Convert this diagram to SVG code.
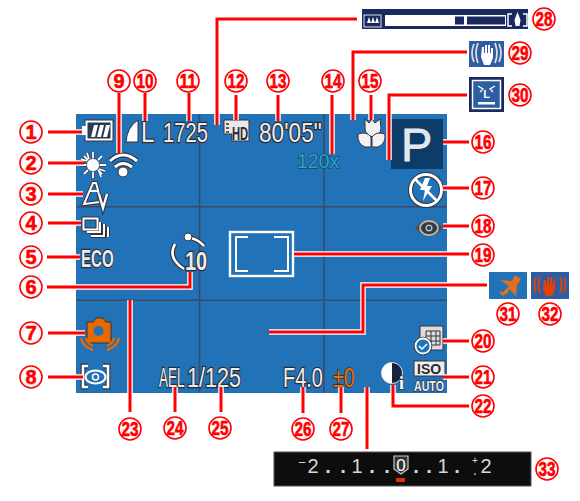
<svg xmlns="http://www.w3.org/2000/svg" width="580" height="501" viewBox="0 0 580 501">
<style>
text{font-family:"Liberation Sans",Arial,sans-serif}
.n circle{fill:#fff;stroke:#f00;stroke-width:1.6}
.n text{font-size:20px;font-weight:700;fill:#f00;text-anchor:middle;stroke:#f00;stroke-width:.6}
.h{fill:none;stroke:#fff;stroke-width:5.5}
.r{fill:none;stroke:#f00;stroke-width:3}
.t{fill:#ececec;stroke:#2b2b33;stroke-width:2.4;paint-order:stroke;font-size:27px}
.w{fill:none;stroke:#fff;stroke-width:2.6}
.k{fill:none;stroke:#33333c;stroke-width:4.8}
.b{fill:#d8d8d8;font-size:20px;text-anchor:middle}
.d{fill:#d8d8d8;font-size:20px;font-weight:700;text-anchor:middle}
.grid{stroke:#3c4a64;stroke-width:1.6}
</style>
<g id="screen">
<rect x="76" y="114" width="371" height="279" fill="#2272b8"/>
<path class="grid" d="M199.500 114V393M324 114V393M76 206.700H447M76 300.300H447"/>
<rect x="391" y="119" width="52" height="50" fill="#0e3c68"/>
</g>
<g id="icon-battery"><rect x="85" y="120" width="28" height="21" fill="#fff" stroke="#33333c"/><rect x="82" y="126" width="4" height="9" fill="#fff"/><rect x="87.500" y="122.500" width="23" height="16" fill="#2a3a50"/><path d="M91 137l3-12h4l-3 12zM97 137l3-12h4l-3 12zM103 137l3-12h4l-3 12z" fill="#fff"/></g>
<g id="icon-sun"><path d="M93 152v7M93 171v7M80 165h7M99 165h7M84 156l4 4M98 170l4 4M102 156l-4 4M88 170l-4 4M87 153l2 6M99 171l2 6M81 159l6 2M99 169l6 2" stroke="#33333c" stroke-width="3" fill="none"/><path d="M93 152v7M93 171v7M80 165h7M99 165h7M84 156l4 4M98 170l4 4M102 156l-4 4M88 170l-4 4M87 153l2 6M99 171l2 6M81 159l6 2M99 169l6 2" stroke="#fff" stroke-width="1.800" fill="none"/><circle cx="93" cy="165" r="6.500" fill="#fff" stroke="#33333c" stroke-width=".6"/></g>
<g id="icon-wifi"><path d="M110 161Q123 149 137 161M115 167Q123 160 132 167" fill="none" stroke="#33333c" stroke-width="5.500"/><path d="M110 161Q123 149 137 161M115 167Q123 160 132 167" fill="none" stroke="#fff" stroke-width="3"/><circle cx="123" cy="172" r="5" fill="#fff" stroke="#33333c"/></g>
<g id="icon-av"><path d="M90 190l3-7h3l2 7 2 12-16 2z" fill="none" stroke="#33333c" stroke-width="4"/><path d="M90 190l3-7h3l2 7 2 12-16 2zM90 191h8" fill="none" stroke="#fff" stroke-width="2"/><path d="M99 194l4 14 4-14" fill="none" stroke="#33333c" stroke-width="4.400"/><path d="M99 194l4 14 4-14" fill="none" stroke="#fff" stroke-width="2.400"/></g>
<g id="icon-drive"><path d="M83.500 218.500h14v11h-14zM100 222v10H87M104 224v12H91M108 227v10" fill="none" stroke="#33333c" stroke-width="4"/><path d="M83.500 218.500h14v11h-14zM100 222v10H87M104 224v12H91M108 227v10" fill="none" stroke="#fff" stroke-width="2"/></g>
<g id="icon-eco"><text class="t" style="font-size:24px;font-weight:700" transform="translate(81 267) scale(.63 1)">ECO</text></g>
<g id="icon-timer"><path d="M175 244q-8 14 9 25M191 238q8 2 13 8" class="k"/><path d="M175 244q-8 14 9 25M191 238q8 2 13 8" class="w"/><circle cx="188" cy="237" r="4" fill="#fff" stroke="#33333c"/><text class="t" style="font-size:25px;font-weight:700" transform="translate(185 270) scale(.8 1)">10</text></g>
<g id="icon-shake"><path d="M87 322h6l3-4h7l3 4h5v21H87z" fill="#e86800" stroke="#33333c"/><circle cx="98.500" cy="331" r="5" fill="#2272b8"/><path d="M81 338q2 9 12 12M86 338q1 5 7 8M119 338q-2 9-12 12M114 338q-1 5-7 8" fill="none" stroke="#e86800" stroke-width="2.400"/></g>
<g id="icon-metering"><path d="M88 366H83V387H88M103 366H108V387H103" class="k"/><path d="M88 366H83V387H88M103 366H108V387H103" class="w"/><ellipse cx="95.500" cy="377" rx="10" ry="6.500" fill="none" stroke="#fff" stroke-width="2"/><circle cx="95.500" cy="377" r="3" fill="none" stroke="#fff" stroke-width="1.500"/></g>
<g id="icon-quality"><path d="M126 142q1-15 12-22v22z" fill="#fff" stroke="#33333c"/><text class="t" style="font-size:30px" transform="translate(141 142) scale(.8 1)">L</text></g>
<text id="shots" class="t" transform="translate(163 142) scale(.75 1)">1725</text>
<g id="icon-movie"><path d="M224 120h25v21h-17v-7h-8z" fill="#e8e8e8" stroke="#33333c"/><text style="font-size:19px;font-weight:700" fill="#2b2b33" transform="translate(232 140) scale(.59 1)">HD</text><path d="M226 124h3M226 128h3M226 132h3" stroke="#2b2b33" stroke-width="1.500"/></g>
<text id="time" class="t" transform="translate(259 142) scale(.84 1)">80'05"</text>
<text id="zoom" style="font-size:21px" fill="#22a8cc" stroke="#1d4468" stroke-width="1.500" paint-order="stroke" transform="translate(297 168) scale(.93 1)">120x</text>
<g id="icon-macro"><path d="M365 119l4 4 3-4 3 4 5-4 1 9q0 7-8 9-8-2-8-9z" fill="#f2f2f2" stroke="#33333c"/><path d="M358 134q9-3 13 3v10h-6q-8-3-7-13zM385 134q-9-3-13 3v10h6q8-3 7-13z" fill="#f2f2f2" stroke="#33333c"/></g>
<text id="mode" x="401" y="161" style="font-size:47px" fill="#e3e8ee" stroke="#e3e8ee" stroke-width=".8">P</text>
<g id="icon-flash"><circle cx="426" cy="190" r="15.500" fill="none" stroke="#33333c" stroke-width="5"/><circle cx="426" cy="190" r="15.500" fill="none" stroke="#fff" stroke-width="3"/><path d="M425 178l-5 12h5l-2 11 9-15h-5l3-8z" fill="#fff"/><path d="M415 179l22 22" stroke="#fff" stroke-width="2.500"/></g>
<g id="icon-eye"><path d="M416 228q13-15 26 0q-13 15-26 0z" fill="#2e3a48" stroke="#555" stroke-width="2"/><ellipse cx="429" cy="228" rx="9" ry="7" fill="none" stroke="#b8b8b8" stroke-width="1.800"/><circle cx="429" cy="228" r="2.800" fill="none" stroke="#b8b8b8" stroke-width="1.500"/></g>
<g id="focus-frame"><rect x="230" y="232" width="63" height="44" fill="none" stroke="#fff" stroke-width="2.400"/><path d="M248 237H236V271H248M274 237H288V271H274" fill="none" stroke="#fff" stroke-width="2"/></g>
<g id="icon-date"><rect x="420" y="326" width="23" height="24" fill="#ddd" stroke="#33333c"/><path d="M426 331h14v14h-14zM431 331v14M436 331v14M426 336h14M426 341h14" stroke="#33333c" stroke-width="1" fill="none"/><circle cx="423" cy="346" r="7.500" fill="#2272b8" stroke="#33333c" stroke-width="3.500"/><circle cx="423" cy="346" r="7.500" fill="#2272b8" stroke="#fff" stroke-width="1.800"/><path d="M419 346l3 3 5-5" fill="none" stroke="#fff" stroke-width="1.500"/></g>
<g id="icon-iso"><rect x="414" y="361" width="31" height="15" fill="#eee" stroke="#33333c"/><text style="font-size:14px;font-weight:700" fill="#2b2b33" transform="translate(417 374)">ISO</text><text style="font-size:15px;font-weight:700" fill="#eee" stroke="#33333c" stroke-width="1.500" paint-order="stroke" transform="translate(414 391) scale(.71 1)">AUTO</text></g>
<g id="icon-contrast"><circle cx="392" cy="373" r="10.500" fill="#15263c" stroke="#ddd" stroke-width="1"/><path d="M392 362.500a10.500 10.500 0 0 0 0 21z" fill="#fff"/><text x="399" y="389" style="font-size:18px;font-weight:700;font-family:'Liberation Serif',serif" fill="#fff" stroke="#33333c" stroke-width="1.500" paint-order="stroke">i</text></g>
<text id="ael" class="t" transform="translate(159 387) scale(.5 1)">AEL</text>
<text id="shutter" class="t" transform="translate(187 387) scale(.8 1)">1/125</text>
<text id="aperture" class="t" transform="translate(283 387) scale(.74 1)">F4.0</text>
<text id="exposure" style="font-size:27px" fill="#e87000" stroke="#2b2b33" stroke-width="1.500" paint-order="stroke" transform="translate(333 387) scale(.73 1)">±0</text>
<g id="connectors">
<g><path class="h" d="M48 132H82"/><path class="r" d="M48 132H82"/></g>
<g><path class="h" d="M48 163H84"/><path class="r" d="M48 163H84"/></g>
<g><path class="h" d="M48 194H83"/><path class="r" d="M48 194H83"/></g>
<g><path class="h" d="M48 223H81"/><path class="r" d="M48 223H81"/></g>
<g><path class="h" d="M47 257H80"/><path class="r" d="M47 257H80"/></g>
<g><path class="h" d="M47 287H190V272"/><path class="r" d="M47 287H190V272"/></g>
<g><path class="h" d="M48 333H85"/><path class="r" d="M48 333H85"/></g>
<g><path class="h" d="M48 377H83"/><path class="r" d="M48 377H83"/></g>
<g><path class="h" d="M119 93V153"/><path class="r" d="M119 93V153"/></g>
<g><path class="h" d="M145 93V121"/><path class="r" d="M145 93V121"/></g>
<g><path class="h" d="M189 93V121"/><path class="r" d="M189 93V121"/></g>
<g><path class="h" d="M236 95V120"/><path class="r" d="M236 95V120"/></g>
<g><path class="h" d="M278 95V121"/><path class="r" d="M278 95V121"/></g>
<g><path class="h" d="M332 95V154"/><path class="r" d="M332 95V154"/></g>
<g><path class="h" d="M371 95V120"/><path class="r" d="M371 95V120"/></g>
<g><path class="h" d="M357 19H217V125"/><path class="r" d="M357 19H217V125"/></g>
<g><path class="h" d="M467 52H353V120"/><path class="r" d="M467 52H353V120"/></g>
<g><path class="h" d="M467 95H389V160"/><path class="r" d="M467 95H389V160"/></g>
<g><path class="h" d="M443 142H469"/><path class="r" d="M443 142H469"/></g>
<g><path class="h" d="M443 188H469"/><path class="r" d="M443 188H469"/></g>
<g><path class="h" d="M443 226H469"/><path class="r" d="M443 226H469"/></g>
<g><path class="h" d="M294 254H469"/><path class="r" d="M294 254H469"/></g>
<g><path class="h" d="M487 285H363V332H269"/><path class="r" d="M487 285H363V332H269"/></g>
<g><path class="h" d="M443 341H469"/><path class="r" d="M443 341H469"/></g>
<g><path class="h" d="M443 377H469"/><path class="r" d="M443 377H469"/></g>
<g><path class="h" d="M393 385V406H469"/><path class="r" d="M393 385V406H469"/></g>
<g><path class="h" d="M130 300V412"/><path class="r" d="M130 300V412"/></g>
<g><path class="h" d="M175 387V412"/><path class="r" d="M175 387V412"/></g>
<g><path class="h" d="M221 387V412"/><path class="r" d="M221 387V412"/></g>
<g><path class="h" d="M303 387V413"/><path class="r" d="M303 387V413"/></g>
<g><path class="h" d="M341 387V413"/><path class="r" d="M341 387V413"/></g>
<g><path class="h" d="M367 387V449"/><path class="r" d="M367 387V449"/></g>
</g>
<g id="bar-focus"><rect x="362" y="9" width="166" height="20" fill="#1a2a5e"/><rect x="364" y="15" width="17" height="12" fill="#1a2a5e" stroke="#dde"/><path d="M367 23l2-6 2 6zM371 23l2-6 2 6zM375 23l2-6 2 6z" fill="#fff"/><rect x="385" y="15" width="121" height="11" fill="#fff"/><rect x="455" y="16.500" width="9" height="8" fill="#1a2a5e"/><rect x="467" y="16.500" width="38" height="8" fill="#1a2a5e"/><path d="M512 14h-4v12h4M523 14h4v12h-4" fill="none" stroke="#fff" stroke-width="1.500"/><path d="M517.500 12l3 8-1 6h-4l-1-6z" fill="#fff"/></g>
<g id="icon-is"><rect x="469" y="41" width="35" height="26" fill="#2e5da4"/><path d="M474 44q-4 9 0 18M478 43q-4 10 0 20M499 44q4 9 0 18M495 43q4 10 0 20" fill="none" stroke="#ddd" stroke-width="1.800"/><path d="M482 47h2v6h1v-8h2v8h1v-8h2v8h1v-5h2v10l-3 7h-6l-3-8z" fill="#fff"/></g>
<g id="icon-blink"><rect x="469" y="77" width="35" height="35" fill="#1a2a5e"/><rect x="472.500" y="80.500" width="28" height="28" fill="#2e5da4" stroke="#fff" stroke-width="1.500"/><path d="M478 86l5 3-3 3M495 86l-5 3 3 3" fill="none" stroke="#fff" stroke-width="1.300"/><text x="486.500" y="98" style="font-size:11px;font-weight:700" fill="#fff" text-anchor="middle">L</text><rect x="478" y="102" width="17" height="2.500" fill="#fff"/></g>
<g id="icon-plane"><rect x="489" y="272" width="38" height="27" fill="#2272b8"/><path d="M515 275l-3 6-12-1 9 6-6 6-4-1 3 5 6-3 1-4 7 7 1-11 4-6z" fill="#e07020"/></g>
<g id="icon-shake-warn"><rect x="531" y="272" width="38" height="27" fill="#2e5da4"/><path d="M536 278q-3 7 0 14M540 277q-3 8 0 16M564 278q3 7 0 14M560 277q3 8 0 16" fill="none" stroke="#e84000" stroke-width="1.800"/><path d="M544 280h2v5h1v-8h2v8h1v-8h2v8h1v-6h2v10l-3 7h-6l-3-7z" fill="#e84000"/></g>
<g id="bar-exposure"><rect x="274" y="452" width="257" height="34" fill="#0d0d0d" stroke="#555"/>
<text class="b" x="302" y="467" style="font-size:13px">−</text><text class="b" x="313" y="473">2</text><text class="d" x="328" y="473">.</text><text class="d" x="343" y="473">.</text><text class="b" x="357" y="473">1</text><text class="d" x="372" y="473">.</text><text class="d" x="387" y="473">.</text><path d="M394 456h14v13l-7 5-7-5z" fill="#333" stroke="#ccc" stroke-width="1.200"/><text class="b" x="401" y="471" style="font-size:17px;fill:#fff">0</text><text class="d" x="416" y="473">.</text><text class="d" x="429" y="473">.</text><text class="b" x="443" y="473">1</text><text class="d" x="457" y="473">.</text><text class="b" x="475" y="464" style="font-size:10px">+</text><text class="d" x="475" y="475" style="font-size:10px">.</text><text class="b" x="486" y="473">2</text>
<rect x="396" y="478" width="9" height="4" fill="#e03000"/></g>
<g class="n">
<g id="n1"><circle cx="31" cy="132" r="11"/><text x="31" y="139">1</text></g>
<g id="n2"><circle cx="31" cy="163" r="11"/><text x="31" y="170">2</text></g>
<g id="n3"><circle cx="31" cy="194" r="11"/><text x="31" y="201">3</text></g>
<g id="n4"><circle cx="31" cy="223" r="11"/><text x="31" y="230">4</text></g>
<g id="n5"><circle cx="31" cy="257" r="11"/><text x="31" y="264">5</text></g>
<g id="n6"><circle cx="31" cy="287" r="11"/><text x="31" y="294">6</text></g>
<g id="n7"><circle cx="31" cy="333" r="11"/><text x="31" y="340">7</text></g>
<g id="n8"><circle cx="31" cy="377" r="11"/><text x="31" y="384">8</text></g>
<g id="n9"><circle cx="119" cy="81" r="11"/><text x="119" y="88">9</text></g>
<g id="n10"><circle cx="145" cy="81" r="11"/><text x="145" y="88" textLength="17" lengthAdjust="spacingAndGlyphs">10</text></g>
<g id="n11"><circle cx="188" cy="81" r="11"/><text x="188" y="88" textLength="17" lengthAdjust="spacingAndGlyphs">11</text></g>
<g id="n12"><circle cx="236" cy="81" r="11"/><text x="236" y="88" textLength="17" lengthAdjust="spacingAndGlyphs">12</text></g>
<g id="n13"><circle cx="278" cy="81" r="11"/><text x="278" y="88" textLength="17" lengthAdjust="spacingAndGlyphs">13</text></g>
<g id="n14"><circle cx="333" cy="81" r="11"/><text x="333" y="88" textLength="17" lengthAdjust="spacingAndGlyphs">14</text></g>
<g id="n15"><circle cx="370" cy="81" r="11"/><text x="370" y="88" textLength="17" lengthAdjust="spacingAndGlyphs">15</text></g>
<g id="n16"><circle cx="483" cy="142" r="11"/><text x="483" y="149" textLength="17" lengthAdjust="spacingAndGlyphs">16</text></g>
<g id="n17"><circle cx="483" cy="188" r="11"/><text x="483" y="195" textLength="17" lengthAdjust="spacingAndGlyphs">17</text></g>
<g id="n18"><circle cx="483" cy="226" r="11"/><text x="483" y="233" textLength="17" lengthAdjust="spacingAndGlyphs">18</text></g>
<g id="n19"><circle cx="483" cy="255" r="11"/><text x="483" y="262" textLength="17" lengthAdjust="spacingAndGlyphs">19</text></g>
<g id="n20"><circle cx="483" cy="341" r="11"/><text x="483" y="348" textLength="17" lengthAdjust="spacingAndGlyphs">20</text></g>
<g id="n21"><circle cx="483" cy="377" r="11"/><text x="483" y="384" textLength="17" lengthAdjust="spacingAndGlyphs">21</text></g>
<g id="n22"><circle cx="483" cy="406" r="11"/><text x="483" y="413" textLength="17" lengthAdjust="spacingAndGlyphs">22</text></g>
<g id="n23"><circle cx="130" cy="429" r="11"/><text x="130" y="436" textLength="17" lengthAdjust="spacingAndGlyphs">23</text></g>
<g id="n24"><circle cx="175" cy="428" r="11"/><text x="175" y="435" textLength="17" lengthAdjust="spacingAndGlyphs">24</text></g>
<g id="n25"><circle cx="220" cy="428" r="11"/><text x="220" y="435" textLength="17" lengthAdjust="spacingAndGlyphs">25</text></g>
<g id="n26"><circle cx="303" cy="429" r="11"/><text x="303" y="436" textLength="17" lengthAdjust="spacingAndGlyphs">26</text></g>
<g id="n27"><circle cx="341" cy="429" r="11"/><text x="341" y="436" textLength="17" lengthAdjust="spacingAndGlyphs">27</text></g>
<g id="n28"><circle cx="544" cy="19" r="11"/><text x="544" y="26" textLength="17" lengthAdjust="spacingAndGlyphs">28</text></g>
<g id="n29"><circle cx="520" cy="53" r="11"/><text x="520" y="60" textLength="17" lengthAdjust="spacingAndGlyphs">29</text></g>
<g id="n30"><circle cx="520" cy="95" r="11"/><text x="520" y="102" textLength="17" lengthAdjust="spacingAndGlyphs">30</text></g>
<g id="n31"><circle cx="508" cy="314" r="11"/><text x="508" y="321" textLength="17" lengthAdjust="spacingAndGlyphs">31</text></g>
<g id="n32"><circle cx="550" cy="314" r="11"/><text x="550" y="321" textLength="17" lengthAdjust="spacingAndGlyphs">32</text></g>
<g id="n33"><circle cx="547" cy="469" r="11"/><text x="547" y="476" textLength="17" lengthAdjust="spacingAndGlyphs">33</text></g>
</g>
</svg>
